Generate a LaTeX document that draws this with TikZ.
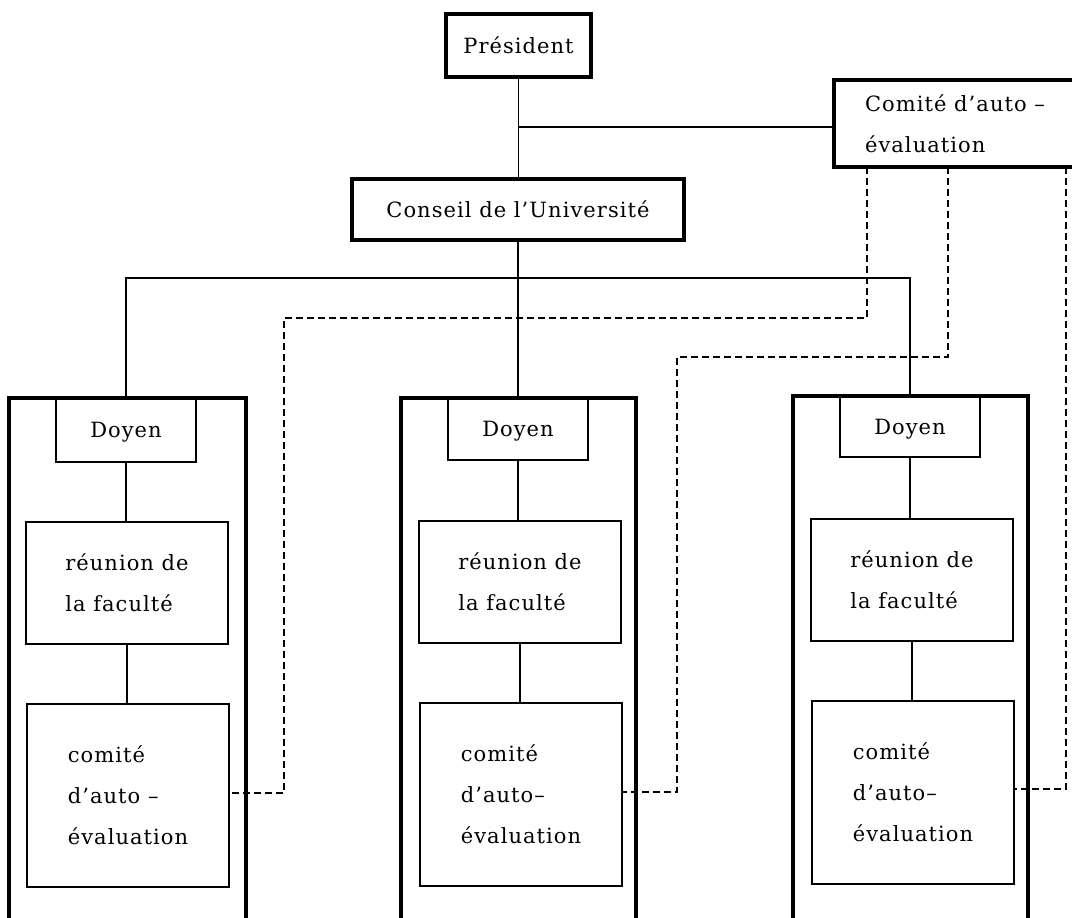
\documentclass[tikz,border=0pt]{standalone}
\usepackage{fontspec}
\setmainfont{DejaVu Serif}[LetterSpace=5]
\begin{document}
\begin{tikzpicture}[x=1pt,y=-1pt,
  every node/.style={font=\fontsize{21}{41}\selectfont, outer sep=0pt, inner sep=2pt, anchor=north west, align=left},
  thickbox/.style={draw, line width=3.6pt, rectangle},
  thinbox/.style={draw, line width=1.7pt, rectangle},
  doyenbox/.style={thinbox, minimum width=140pt, text depth=0pt},
  conn/.style={line width=1.5pt},
  dashline/.style={line width=1.2pt, dash pattern=on 7pt off 4pt}]
\useasboundingbox (0,0) rectangle (1072,918);
\clip (0,0) rectangle (1072,918);

% top level
\node[thickbox, minimum width=145pt, minimum height=63pt] (pres) at (446,14) {Président};
\node[thickbox, minimum width=242pt, minimum height=87pt] (comtop) at (834,80) {Comité d'auto –\\évaluation};
\node[thickbox, minimum width=332pt, minimum height=61pt] (conseil) at (352,179) {Conseil de l'Université};

% column 1
\node[thickbox, minimum width=237pt, minimum height=600pt] (col1) at (9,398) {};
\node[doyenbox, minimum height=64pt] (d1) at (56,398) {Doyen};
\node[thinbox, minimum width=202pt, minimum height=122pt] (r1) at (26,522) {réunion de\\la faculté};
\node[thinbox, minimum width=202pt, minimum height=183pt] (c1) at (27,704) {comité\\d'auto –\\évaluation};

% column 2
\node[thickbox, minimum width=235pt, minimum height=600pt] (col2) at (401,398) {};
\node[doyenbox, minimum height=62pt] (d2) at (448,398) {Doyen};
\node[thinbox, minimum width=202pt, minimum height=122pt] (r2) at (419,521) {réunion de\\la faculté};
\node[thinbox, minimum width=202pt, minimum height=183pt] (c2) at (420,703) {comité\\d'auto–\\évaluation};

% column 3
\node[thickbox, minimum width=235pt, minimum height=600pt] (col3) at (793,396) {};
\node[doyenbox, minimum height=61pt] (d3) at (840,396) {Doyen};
\node[thinbox, minimum width=202pt, minimum height=122pt] (r3) at (811,519) {réunion de\\la faculté};
\node[thinbox, minimum width=202pt, minimum height=183pt] (c3) at (812,701) {comité\\d'auto–\\évaluation};

% solid connectors
\coordinate (j1) at (518,127);
\coordinate (hb) at (518,278);
\draw[conn] (pres.south) -- (pres.south |- conseil.north);
\draw[conn] (j1) -- (j1 -| comtop.west);
\draw[conn] (conseil.south) -- (conseil.south |- d2.north);
\draw[conn] (d1.north) |- (hb) -| (d3.north);
\foreach \i in {1,2,3}{
  \draw[conn] (d\i.south) -- (d\i.south |- r\i.north);
  \draw[conn] (r\i.south) -- (r\i.south |- c\i.north);
}

% dashed connectors
\coordinate (k1) at (867,318);
\coordinate (k1b) at (284,793);
\coordinate (k2) at (948,357);
\coordinate (k2b) at (677,792);
\coordinate (k3b) at (1066,789);
\draw[dashline] (comtop.south -| k1) -- (k1) -| (k1b) -- (k1b -| c1.east);
\draw[dashline] (comtop.south -| k2) -- (k2) -| (k2b) -- (k2b -| c2.east);
\draw[dashline] (comtop.south -| k3b) -- (k3b) -- (k3b -| c3.east);
\end{tikzpicture}
\end{document}
